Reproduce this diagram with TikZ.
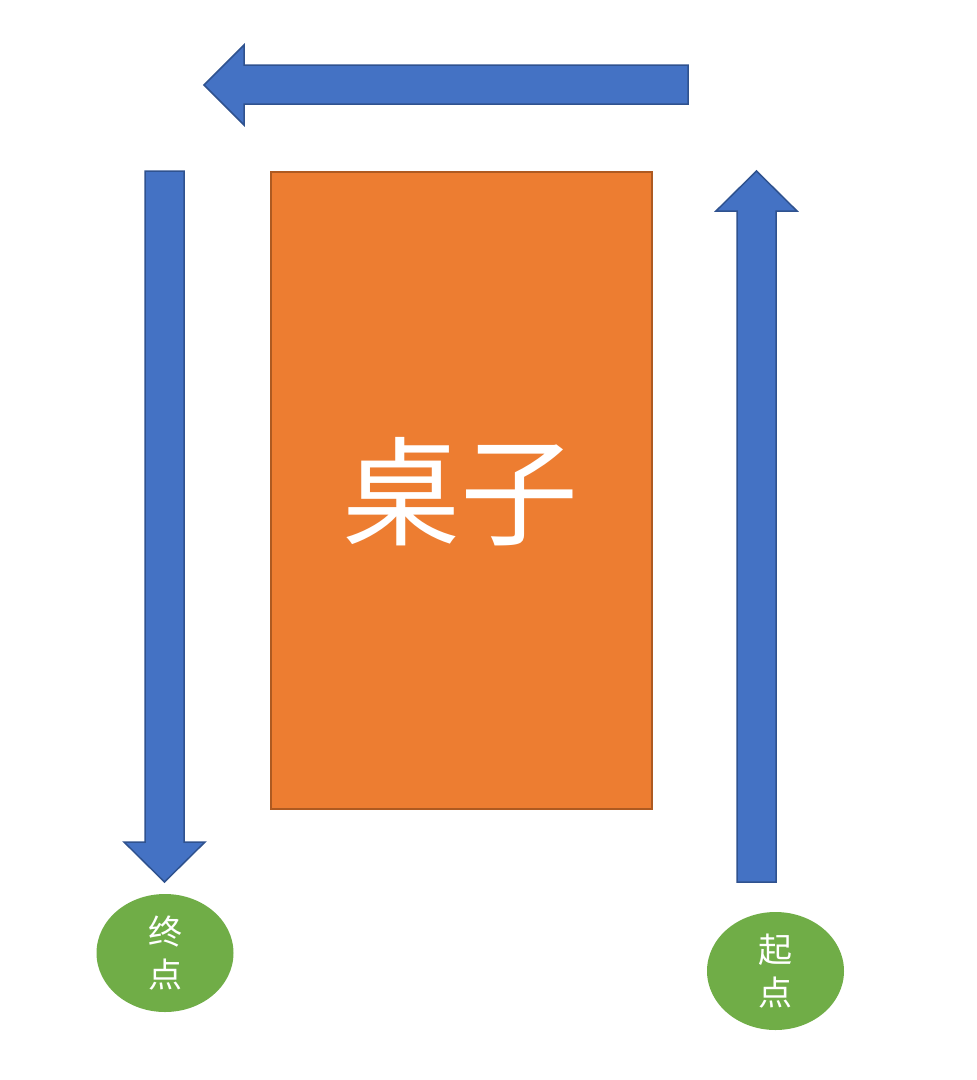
\documentclass[tikz,border=0pt]{standalone}
\usepackage{fontspec}
\newfontfamily\cjk{Noto Sans CJK SC}
\usetikzlibrary{shapes.geometric}
\definecolor{ablue}{HTML}{4472C4}
\definecolor{ablueb}{HTML}{2F528F}
\definecolor{aorange}{HTML}{ED7D31}
\definecolor{aorangeb}{HTML}{AE5A21}
\definecolor{agreen}{HTML}{70AD47}
\begin{document}
\begin{tikzpicture}[x=1pt,y=-1pt,
  arrowshape/.style={fill=ablue,draw=ablueb,line width=1.5pt,line join=miter},
  endpt/.style={ellipse,fill=agreen,draw=none,minimum width=137pt,minimum height=118pt,inner sep=0pt,text=white,align=center,font=\cjk\fontsize{34}{43}\selectfont}]
\useasboundingbox (0,0) rectangle (977,1080);
% top arrow (left)
\draw[arrowshape] (688,65) -- (244,65) -- (244,45) -- (204,85) -- (244,125) -- (244,104) -- (688,104) -- cycle;
% left arrow (down)
\draw[arrowshape] (145,171) -- (184,171) -- (184,842) -- (205,842) -- (164.5,882) -- (124,842) -- (145,842) -- cycle;
% right arrow (up)
\draw[arrowshape] (737,882) -- (776,882) -- (776,211) -- (797,211) -- (756.5,171) -- (716,211) -- (737,211) -- cycle;
% table
\node[draw=aorangeb,fill=aorange,line width=1.5pt,minimum width=381pt,minimum height=637pt,inner sep=0pt,anchor=north west] (table) at (270,171) {};
\node[text=white,font=\cjk\fontsize{118}{118}\selectfont] (label) at (460,492) {桌子};
% end points
\node[endpt] (finish) at (165,953) {终\\点};
\node[endpt] (start) at (775.5,971) {起\\点};
\end{tikzpicture}
\end{document}
